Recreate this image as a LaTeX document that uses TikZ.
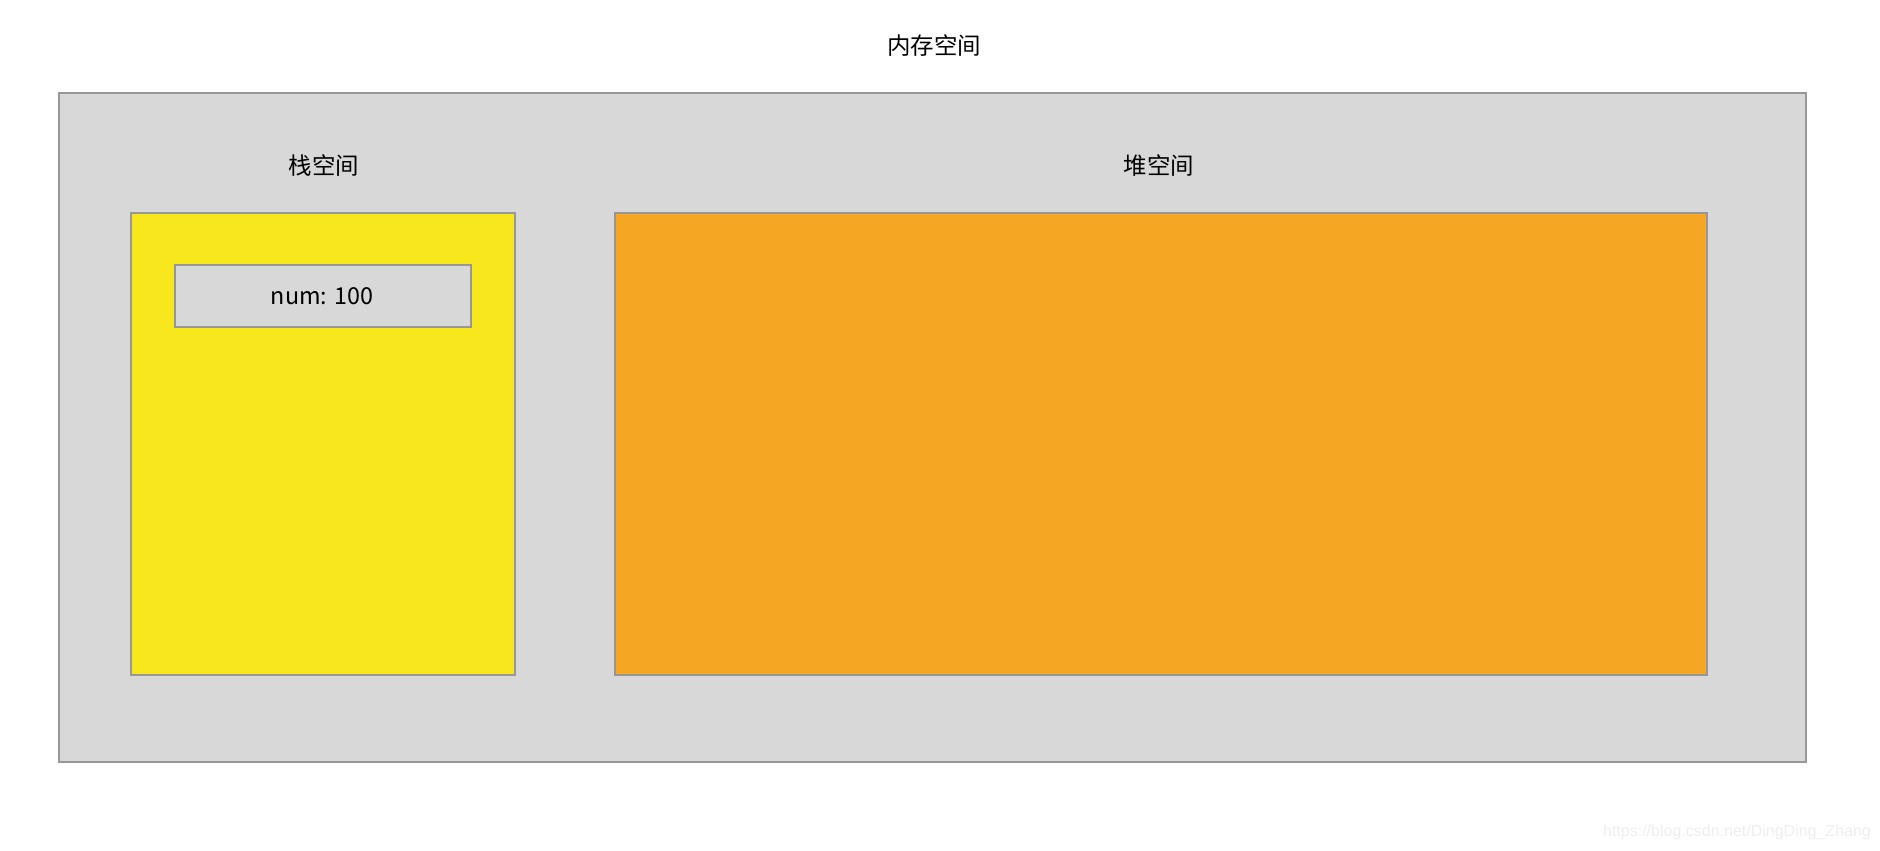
\documentclass[tikz,border=0pt]{standalone}
\usepackage{fontspec}
\setmainfont{Liberation Sans}
\newfontfamily\cjk{Noto Sans CJK SC}
\definecolor{bggray}{HTML}{D8D8D8}
\definecolor{edgegray}{HTML}{979797}
\definecolor{stackyellow}{HTML}{F8E71C}
\definecolor{heaporange}{HTML}{F5A623}
\definecolor{wmgray}{HTML}{EEEEEE}
\tikzset{
  box/.style={draw=edgegray, line width=1.5pt},
  label/.style={font=\cjk\fontsize{17.6}{20}\selectfont, text=black, inner sep=0pt},
}
\begin{document}
\begin{tikzpicture}[x=0.75pt,y=-0.75pt]
\useasboundingbox (0,0) rectangle (1880,850);
\node[label] (title) at (934,46) {内存空间};
\draw[box, fill=bggray] (59,93) rectangle (1806,762);
\node[label] (stacklabel) at (324,166) {栈空间};
\node[label] (heaplabel) at (1159,166) {堆空间};
\draw[box, fill=stackyellow] (131,213) rectangle (515,675);
\draw[box, fill=heaporange] (615,213) rectangle (1707,675);
\draw[box, fill=bggray] (175,265) rectangle (471,327);
\node[font=\cjk\fontsize{17.5}{21}\selectfont, inner sep=0pt] (num) at (322,296) {num: 100};
\node[font=\fontsize{12}{14}\selectfont, text=wmgray, inner sep=0pt] (wm) at (1737,832) {https://blog.csdn.net/DingDing\_Zhang};
\end{tikzpicture}
\end{document}
